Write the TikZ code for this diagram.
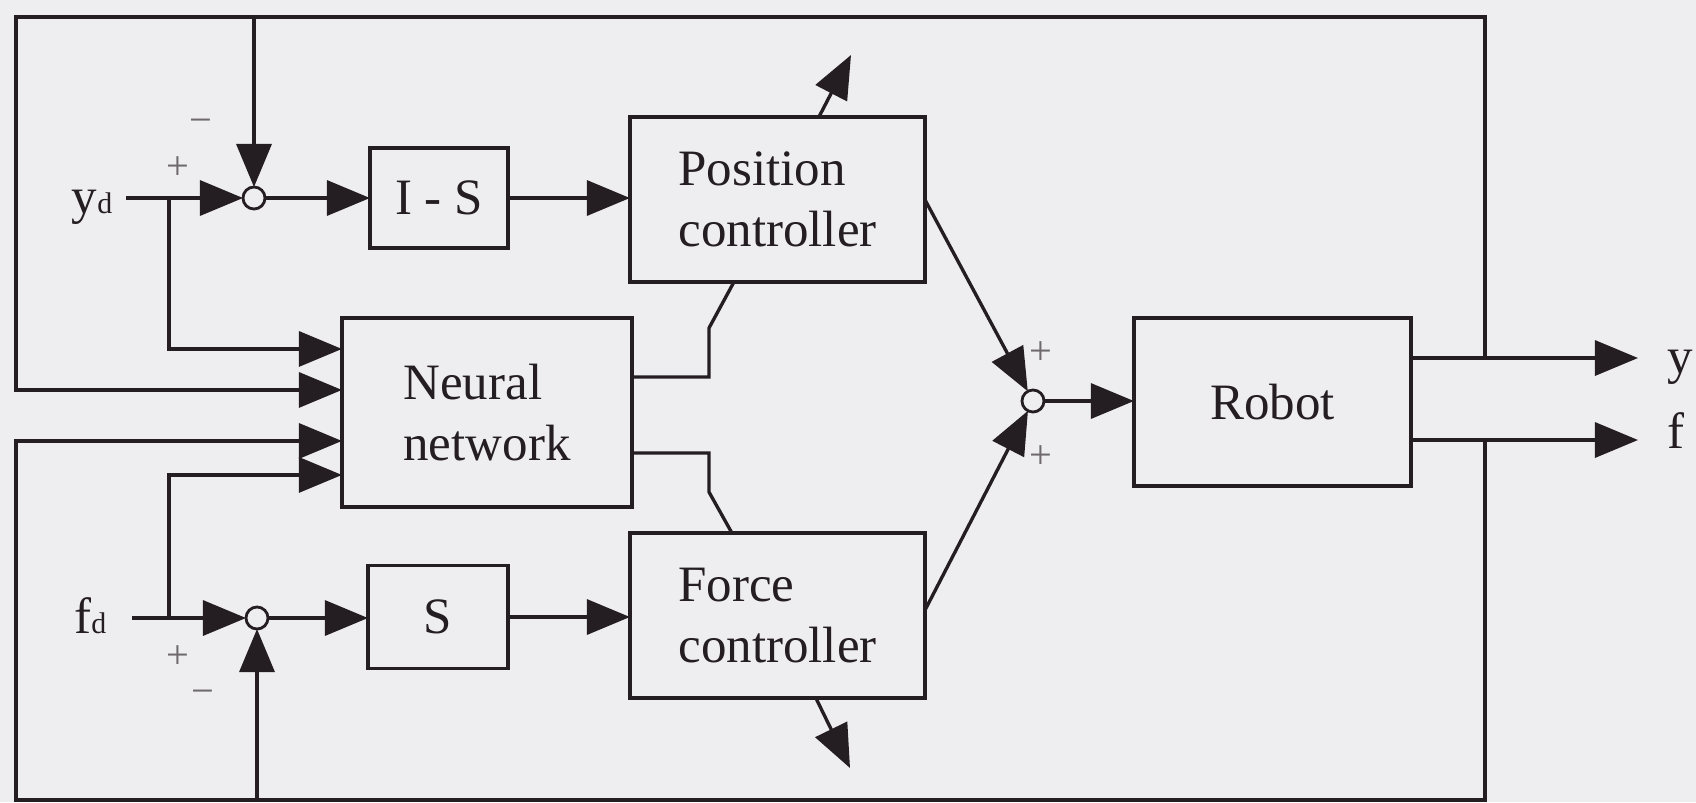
\documentclass[tikz,border=0pt]{standalone}
\usepackage{fontspec}
\setmainfont{Liberation Serif}
\usetikzlibrary{arrows.meta,calc}
\definecolor{paper}{RGB}{238,237,240}
\definecolor{ink}{RGB}{36,30,34}
\definecolor{signgray}{RGB}{110,105,108}
\begin{document}
\begin{tikzpicture}[x=0.01cm,y=-0.01cm,
  wire/.style={draw=ink,line width=0.95pt},
  flow/.style={wire,-{Triangle[length=4.3mm,width=3.5mm]}},
  block/.style={draw=ink,line width=1pt,rectangle,inner sep=0pt,outer sep=0pt,
    font=\fontsize{14.5}{17.4}\selectfont,text=ink},
  junction/.style={draw=ink,line width=0.8pt,circle,minimum size=0.22cm,inner sep=0pt,outer sep=0pt},
  sign/.style={text=signgray,font=\fontsize{11.5}{11.5}\selectfont,inner sep=0pt},
  lbl/.style={text=ink,font=\fontsize{14.5}{17.4}\selectfont,inner sep=0pt}]
\fill[paper] (0,0) rectangle (1696,802);
\useasboundingbox (0,0) rectangle (1696,802);

% blocks
\node[block,minimum width=1.38cm,minimum height=1.00cm] (is) at (439,198) {I - S};
\node[block,minimum width=2.95cm,minimum height=1.65cm,align=left] (pos) at (777.5,199.5) {Position\\controller};
\node[block,minimum width=2.90cm,minimum height=1.89cm,align=left] (nn) at (487,412.5) {Neural\\network};
\node[block,minimum width=1.40cm,minimum height=1.03cm] (s) at (438,617) {S};
\node[block,minimum width=2.95cm,minimum height=1.65cm,align=left] (force) at (777.5,615.5) {Force\\controller};
\node[block,minimum width=2.77cm,minimum height=1.68cm] (robot) at (1272.5,402) {Robot};

% summing junctions
\node[junction] (sum1) at (254,198) {};
\node[junction] (sum2) at (257,618) {};
\node[junction] (sum3) at (1033,401) {};

% inputs and outputs
\node[lbl,anchor=base east] (yd) at (113,213) {y{\fontsize{8.5}{8.5}\selectfont d}};
\node[lbl,anchor=base east] (fd) at (107,633) {f{\fontsize{8.5}{8.5}\selectfont d}};
\coordinate (yout) at (1638,358);
\coordinate (fout) at (1638,440);
\node[lbl,anchor=base west] (ylab) at (1667,373) {y};
\node[lbl,anchor=base west] (flab) at (1667,448) {f};

% feedback loop corners and branch points
\coordinate (yj) at (1485,358);
\coordinate (fj) at (1485,440);
\coordinate (tr) at (1485,17);
\coordinate (tl) at (16,17);
\coordinate (br) at (1485,800);
\coordinate (bl) at (16,800);
\coordinate (b1) at (169,198);
\coordinate (b2) at (169,618);
\coordinate (k1) at (709,328);
\coordinate (k2) at (709,492);
\coordinate (pup) at (851,55);
\coordinate (fdown) at (850,768);

% forward paths
\draw[flow,shorten <=0.13cm] (yd.east |- sum1) -- (sum1.west);
\draw[flow] (sum1.east) -- (is.west);
\draw[flow] (is.east) -- (is.east -| pos.west);
\draw[flow,shorten <=0.25cm] (fd.east |- sum2) -- (sum2.west);
\draw[flow] (sum2.east) -- (sum2.east -| s.west);
\draw[flow] (s.east) -- (s.east -| force.west);
\draw[flow] ($(pos.north east)+(0,83)$) -- (sum3);
\draw[flow] ($(force.north east)+(0,77)$) -- (sum3);
\draw[flow] (sum3.east) -- (sum3.east -| robot.west);
\draw[flow] (robot.east |- yout) -- (yout);
\draw[flow] (robot.east |- fout) -- (fout);

% controller outputs
\draw[flow] ($(pos.north west)+(189,0)$) -- (pup);
\draw[flow] ($(force.south west)+(186,0)$) -- (fdown);

% neural network inputs
\draw[flow] (b1) |- ($(nn.north west)+(0,31)$);
\draw[flow] (b2) |- ($(nn.north west)+(0,157)$);
\draw[flow] (yj) -- (tr) -- (tl) |- ($(nn.north west)+(0,72)$);
\draw[flow] (fj) -- (br) -- (bl) |- ($(nn.north west)+(0,123)$);
\draw[flow] (sum1 |- tl) -- (sum1.north);
\draw[flow] (sum2 |- bl) -- (sum2.south);

% neural network tuning the controllers
\draw[wire] ($(nn.north east)+(0,59)$) -| (k1) -- ($(pos.south west)+(104,0)$);
\draw[wire] ($(nn.north east)+(0,135)$) -| (k2) -- ($(force.north west)+(102,0)$);

% signs
\node[sign] (p1) at (178,168) {+};
\node[sign] (m1) at (201,126) {−};
\node[sign] (p2) at (178,657) {+};
\node[sign] (m2) at (203,697) {−};
\node[sign] (p3) at (1041,353) {+};
\node[sign] (p4) at (1041,457) {+};
\end{tikzpicture}
\end{document}
